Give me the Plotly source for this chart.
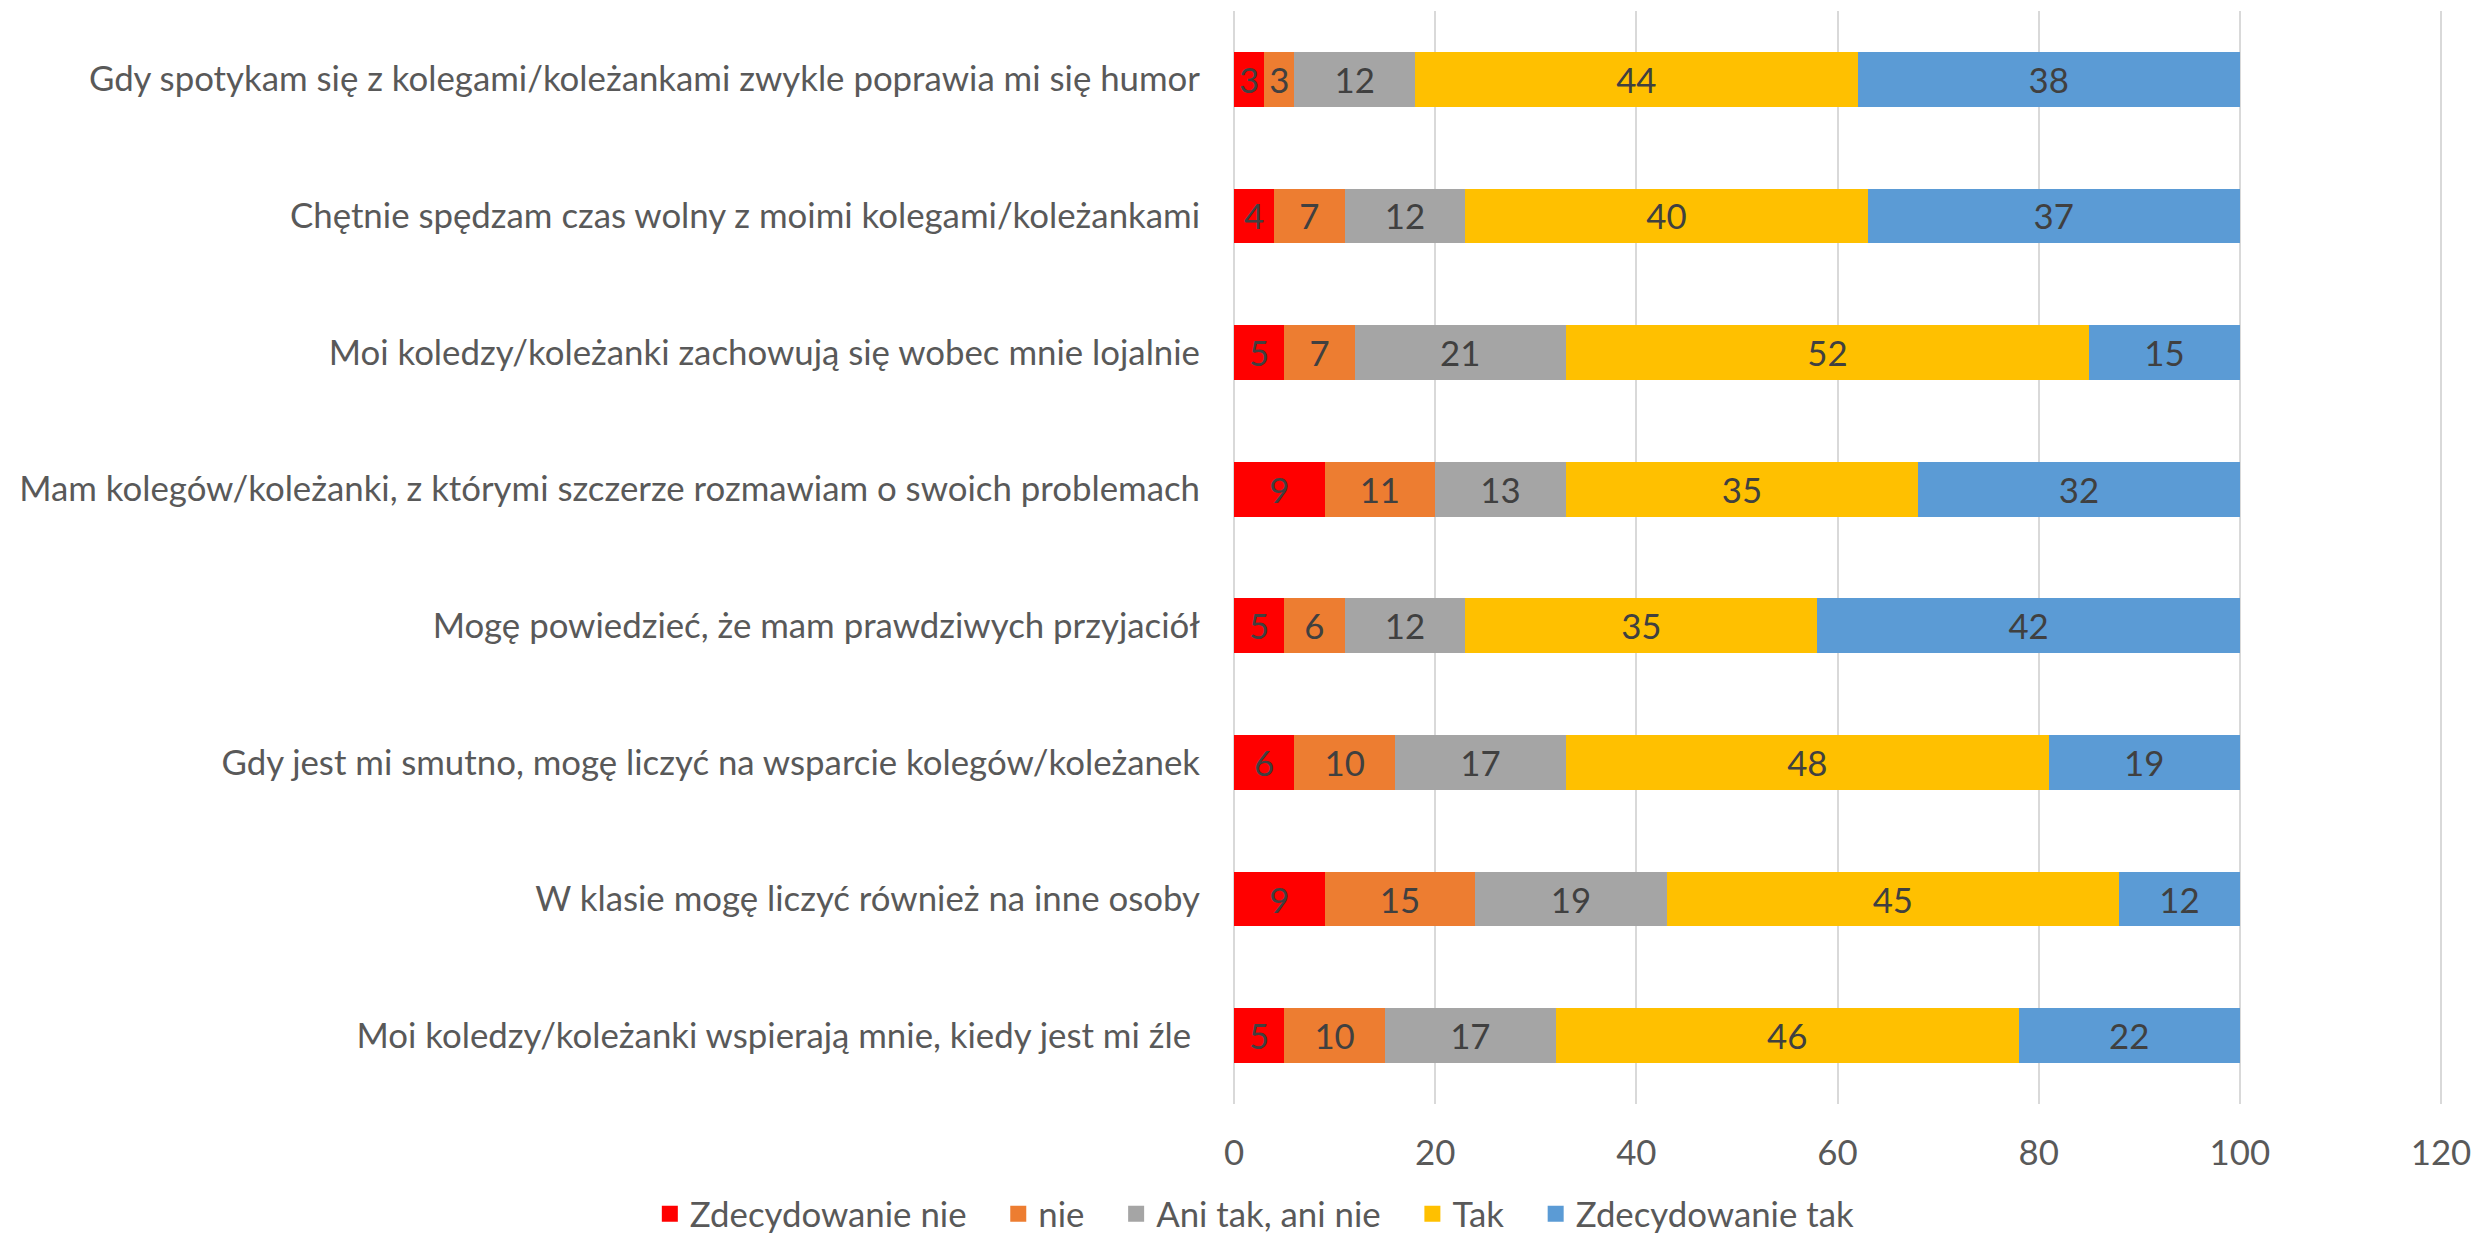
import plotly.graph_objects as go

categories = [
    "Gdy spotykam się z kolegami/koleżankami zwykle poprawia mi się humor",
    "Chętnie spędzam czas wolny z moimi kolegami/koleżankami",
    "Moi koledzy/koleżanki zachowują się wobec mnie lojalnie",
    "Mam kolegów/koleżanki, z którymi szczerze rozmawiam o swoich problemach",
    "Mogę powiedzieć, że mam prawdziwych przyjaciół",
    "Gdy jest mi smutno, mogę liczyć na wsparcie kolegów/koleżanek",
    "W klasie mogę liczyć również na inne osoby",
    "Moi koledzy/koleżanki wspierają mnie, kiedy jest mi źle\u00a0",
]

zdecydowanie_nie = [3, 4, 5, 9, 5, 6, 9, 5]
nie = [3, 7, 7, 11, 6, 10, 15, 10]
ani_tak_ani_nie = [12, 12, 21, 13, 12, 17, 19, 17]
tak = [44, 40, 52, 35, 35, 48, 45, 46]
zdecydowanie_tak = [38, 37, 15, 32, 42, 19, 12, 22]

series_names = ["Zdecydowanie nie", "nie", "Ani tak, ani nie", "Tak", "Zdecydowanie tak"]
series_values = [zdecydowanie_nie, nie, ani_tak_ani_nie, tak, zdecydowanie_tak]
colors = ["#FF0000", "#ED7D31", "#A5A5A5", "#FFC000", "#5B9BD5"]

x_ticks = [0, 20, 40, 60, 80, 100, 120]

FONT = "Lato"
FS = 34.8
PAD = "\u00a0\u00a0\u00a0"

fig = go.Figure()
for name, vals, col in zip(series_names, series_values, colors):
    fig.add_trace(go.Bar(
        y=categories, x=vals, name=name, orientation="h",
        marker=dict(color=col, line=dict(width=0)),
        text=[str(v) for v in vals], textposition="inside",
        insidetextanchor="middle", constraintext="none",
        textfont=dict(family=FONT, size=FS, color="#404040"),
        cliponaxis=False, showlegend=False,
    ))

# legend entries with larger square swatches
for i, (name, col) in enumerate(zip(series_names, colors)):
    fig.add_trace(go.Scatter(
        x=[None], y=[None], mode="markers",
        name=name + (PAD if i < len(series_names) - 1 else ""),
        marker=dict(symbol="square", size=16, color=col, line=dict(width=0)),
        showlegend=True, hoverinfo="skip",
    ))

fig.update_layout(
    width=2475, height=1239,
    barmode="stack", bargap=0.6,
    plot_bgcolor="white", paper_bgcolor="white",
    margin=dict(l=1234, r=33, t=11, b=135),
    font=dict(family=FONT, size=FS, color="#595959"),
    uniformtext=dict(minsize=FS, mode="show"),
    showlegend=True,
    legend=dict(
        orientation="h", xref="container", yref="container",
        x=0.507, xanchor="center", y=0.02, yanchor="middle",
        font=dict(family=FONT, size=FS, color="#595959"),
        traceorder="normal", itemwidth=30,
    ),
    xaxis=dict(
        range=[0, 120.1], tickvals=x_ticks, ticktext=[str(t) for t in x_ticks],
        showgrid=True, gridcolor="#D9D9D9", gridwidth=2,
        zeroline=True, zerolinecolor="#D9D9D9", zerolinewidth=2,
        showline=False, ticks="", ticklabelstandoff=25, automargin=False,
        tickfont=dict(family=FONT, size=FS, color="#595959"),
    ),
    yaxis=dict(
        autorange="reversed", showgrid=False, showline=False, ticks="",
        ticklabelstandoff=33, automargin=False,
        tickfont=dict(family=FONT, size=FS, color="#595959"),
    ),
)

fig.write_html("out.html", config={"displayModeBar": False},
               post_script="document.body.style.margin='0';")
